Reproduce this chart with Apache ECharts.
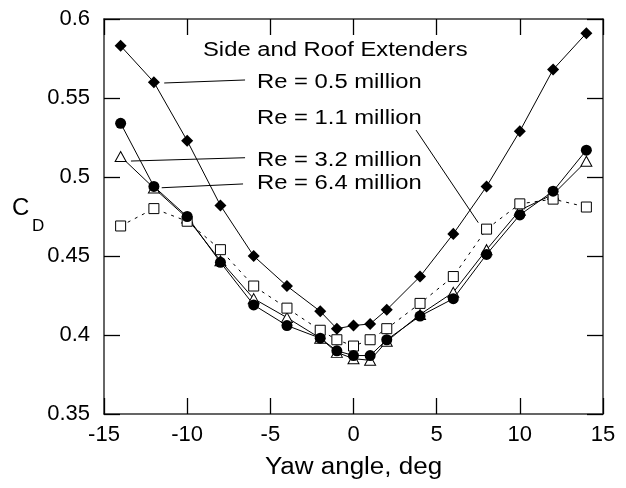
<!DOCTYPE html>
<html>
<head>
<meta charset="utf-8">
<script src="https://cdn.jsdelivr.net/npm/echarts@6/dist/echarts.min.js"></script>
<style>
  html, body { margin: 0; padding: 0; background: #fff; }
  #chart { width: 626px; height: 488px; }
</style>
</head>
<body>
<div id="chart"></div>
<script>
// Yaw angles (deg) at which the drag coefficient was measured
const yawDeg = [-14, -12, -10, -8, -6, -4, -2, -1, 0, 1, 2, 4, 6, 8, 10, 12, 14];

// Drag coefficient C_D for each Reynolds number
const cdRe05 = [0.583, 0.560, 0.523, 0.482, 0.450, 0.431, 0.415, 0.404, 0.406, 0.407, 0.416, 0.437, 0.464, 0.494, 0.529, 0.568, 0.591];
const cdRe11 = [0.469, 0.480, 0.472, 0.454, 0.431, 0.417, 0.403, 0.397, 0.393, 0.397, 0.404, 0.420, 0.437, 0.467, 0.483, 0.486, 0.481];
const cdRe32 = [0.513, 0.493, 0.474, 0.447, 0.423, 0.411, 0.398, 0.389, 0.385, 0.384, 0.396, 0.413, 0.427, 0.454, 0.479, 0.489, 0.510];
const cdRe64 = [0.534, 0.494, 0.475, 0.446, 0.419, 0.406, 0.398, 0.390, 0.387, 0.387, 0.397, 0.412, 0.423, 0.451, 0.476, 0.491, 0.517];

// Leader lines from each label to its series, in data units [x, C_D]
const leaderRe05 = [[-11.38, 0.5595], [-6.52, 0.5614]];
const leaderRe11 = [[3.76, 0.5297], [7.50, 0.4711]];
const leaderRe32 = [[-13.38, 0.5101], [-6.52, 0.5122]];
const leaderRe64 = [[-11.53, 0.4932], [-6.64, 0.4956]];

const FONT = "'Liberation Sans', Arial, Helvetica, sans-serif";

const pairs = ys => yawDeg.map((x, i) => [x, ys[i]]);

const axisLineStyle = { color: '#333', width: 1.5 };
const tickStyle = { color: '#000', width: 1.3 };

function xAxisDef(position, showLabels) {
  return {
    type: 'value', min: -15, max: 15, interval: 5, position,
    axisLine: { show: true, onZero: false, lineStyle: axisLineStyle },
    axisTick: { show: true, inside: true, length: 16, lineStyle: tickStyle },
    axisLabel: { show: showLabels, fontSize: 22, fontFamily: FONT, color: '#000', margin: 10 },
    splitLine: { show: false }
  };
}
function yAxisDef(position, showLabels) {
  return {
    type: 'value', min: 0.35, max: 0.6, interval: 0.05, position,
    axisLine: { show: true, onZero: false, lineStyle: axisLineStyle },
    axisTick: { show: true, inside: true, length: 16, lineStyle: tickStyle },
    axisLabel: {
      show: showLabels, fontSize: 22, fontFamily: FONT, color: '#000', margin: 14,
      formatter: v => String(Math.round(v * 100) / 100)
    },
    splitLine: { show: false }
  };
}

const leader = seg => [{ coord: seg[0] }, { coord: seg[1] }];

const hollow = { color: '#fff', borderColor: '#000', borderWidth: 1 };

const option = {
  animation: false,
  backgroundColor: '#fff',
  grid: { left: 104, right: 23, top: 19, bottom: 74 },
  xAxis: [xAxisDef('bottom', true), xAxisDef('top', false)],
  yAxis: [yAxisDef('left', true), yAxisDef('right', false)],
  series: [
    {
      name: 'Re = 3.2 million', type: 'line', data: pairs(cdRe32),
      symbol: 'triangle', symbolSize: [11, 10],
      lineStyle: { color: '#000', width: 1 }, itemStyle: hollow
    },
    {
      name: 'Re = 1.1 million', type: 'line', data: pairs(cdRe11),
      symbol: 'rect', symbolSize: 10,
      lineStyle: { color: '#000', width: 1, type: [3, 5] }, itemStyle: hollow
    },
    {
      name: 'Re = 6.4 million', type: 'line', data: pairs(cdRe64),
      symbol: 'circle', symbolSize: 11,
      lineStyle: { color: '#000', width: 1 }, itemStyle: { color: '#000' }
    },
    {
      name: 'Re = 0.5 million', type: 'line', data: pairs(cdRe05),
      symbol: 'rect', symbolSize: 8.5, symbolRotate: 45,
      lineStyle: { color: '#000', width: 1 }, itemStyle: { color: '#000' },
      markLine: {
        silent: true, symbol: ['none', 'none'], animation: false,
        label: { show: false },
        lineStyle: { color: '#000', width: 1, type: 'solid' },
        emphasis: { disabled: true },
        data: [leader(leaderRe05), leader(leaderRe11), leader(leaderRe32), leader(leaderRe64)]
      }
    }
  ],
  graphic: [
    { type: 'text', x: 203, y: 50, scaleX: 1.19, silent: true,
      style: { text: 'Side and Roof Extenders', font: '20px ' + FONT, fill: '#000', textVerticalAlign: 'middle' } },
    { type: 'text', x: 257, y: 82, scaleX: 1.19, silent: true,
      style: { text: 'Re = 0.5 million', font: '20px ' + FONT, fill: '#000', textVerticalAlign: 'middle' } },
    { type: 'text', x: 257, y: 118, scaleX: 1.19, silent: true,
      style: { text: 'Re = 1.1 million', font: '20px ' + FONT, fill: '#000', textVerticalAlign: 'middle' } },
    { type: 'text', x: 257, y: 160, scaleX: 1.19, silent: true,
      style: { text: 'Re = 3.2 million', font: '20px ' + FONT, fill: '#000', textVerticalAlign: 'middle' } },
    { type: 'text', x: 257, y: 183, scaleX: 1.19, silent: true,
      style: { text: 'Re = 6.4 million', font: '20px ' + FONT, fill: '#000', textVerticalAlign: 'middle' } },
    { type: 'text', x: 353.5, y: 468, scaleX: 1.13, silent: true,
      style: { text: 'Yaw angle, deg', font: '23px ' + FONT, fill: '#000', textAlign: 'center', textVerticalAlign: 'middle' } },
    { type: 'text', x: 12, y: 208, silent: true,
      style: { text: 'C', font: '24px ' + FONT, fill: '#000', textVerticalAlign: 'middle' } },
    { type: 'text', x: 32, y: 226, silent: true,
      style: { text: 'D', font: '17px ' + FONT, fill: '#000', textVerticalAlign: 'middle' } }
  ]
};

const chart = echarts.init(document.getElementById('chart'), null, { renderer: 'canvas' });
chart.setOption(option);
</script>
</body>
</html>
